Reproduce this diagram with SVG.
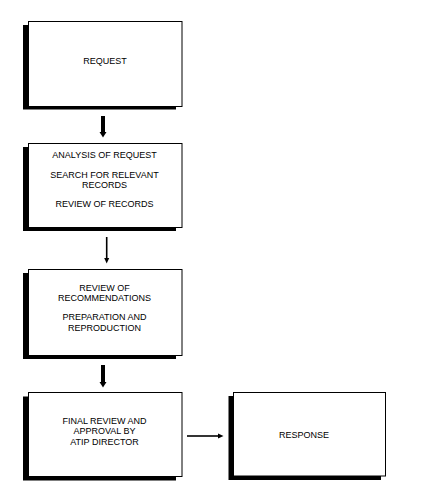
<svg xmlns="http://www.w3.org/2000/svg" width="422" height="494" viewBox="0 0 422 494">
<style>
.shadow{fill:#000;stroke:none}
.box{fill:#fff;stroke:#000;stroke-width:1}
.t{font-family:"Liberation Sans",Arial,sans-serif;font-size:9px;fill:#000;text-anchor:middle}
.thin{stroke:#000;stroke-width:1.6;fill:none}
.head{fill:#000;stroke:none}
</style>
<rect width="422" height="494" fill="#fff"/>
<g id="request">
<rect class="shadow" x="23" y="25" width="153" height="84.5"/>
<rect class="box" x="28.5" y="21.5" width="153.5" height="85"/>
<text class="t" x="105" y="64">REQUEST</text>
</g>
<g id="analysis">
<rect class="shadow" x="23" y="147" width="153" height="84"/>
<rect class="box" x="28.5" y="143.5" width="153.5" height="84"/>
<text class="t" x="104.5" y="157.5">ANALYSIS OF REQUEST</text>
<text class="t" x="104.5" y="178">SEARCH FOR RELEVANT</text>
<text class="t" x="104.5" y="188">RECORDS</text>
<text class="t" x="104.5" y="207">REVIEW OF RECORDS</text>
</g>
<g id="review">
<rect class="shadow" x="23" y="273" width="153" height="86"/>
<rect class="box" x="28.5" y="269.5" width="153.5" height="86"/>
<text class="t" x="104.5" y="290.5">REVIEW OF</text>
<text class="t" x="104.5" y="300.5">RECOMMENDATIONS</text>
<text class="t" x="104.5" y="320">PREPARATION AND</text>
<text class="t" x="104.5" y="331">REPRODUCTION</text>
</g>
<g id="final">
<rect class="shadow" x="23" y="396.5" width="153" height="84"/>
<rect class="box" x="28.5" y="392.5" width="153.5" height="84"/>
<text class="t" x="104.5" y="424">FINAL REVIEW AND</text>
<text class="t" x="104.5" y="434">APPROVAL BY</text>
<text class="t" x="104.5" y="445">ATIP DIRECTOR</text>
</g>
<g id="response">
<rect class="shadow" x="228.5" y="396" width="152.5" height="84"/>
<rect class="box" x="233.5" y="392.5" width="152" height="83.5"/>
<text class="t" x="304" y="437.5">RESPONSE</text>
</g>
<g id="connectors">
<rect class="head" x="101" y="116" width="4" height="17"/>
<polygon class="head" points="99.5,132 106.5,132 103,137.5"/>
<line class="thin" x1="106.7" y1="237" x2="106.7" y2="259"/>
<polygon class="head" points="104.2,258 109.2,258 106.7,263.5"/>
<rect class="head" x="101" y="365" width="4" height="18"/>
<polygon class="head" points="99.5,382 106.5,382 103,387.5"/>
<line class="thin" x1="187" y1="436" x2="219" y2="436"/>
<polygon class="head" points="218,433.5 218,438.5 223.5,436"/>
</g>
</svg>
